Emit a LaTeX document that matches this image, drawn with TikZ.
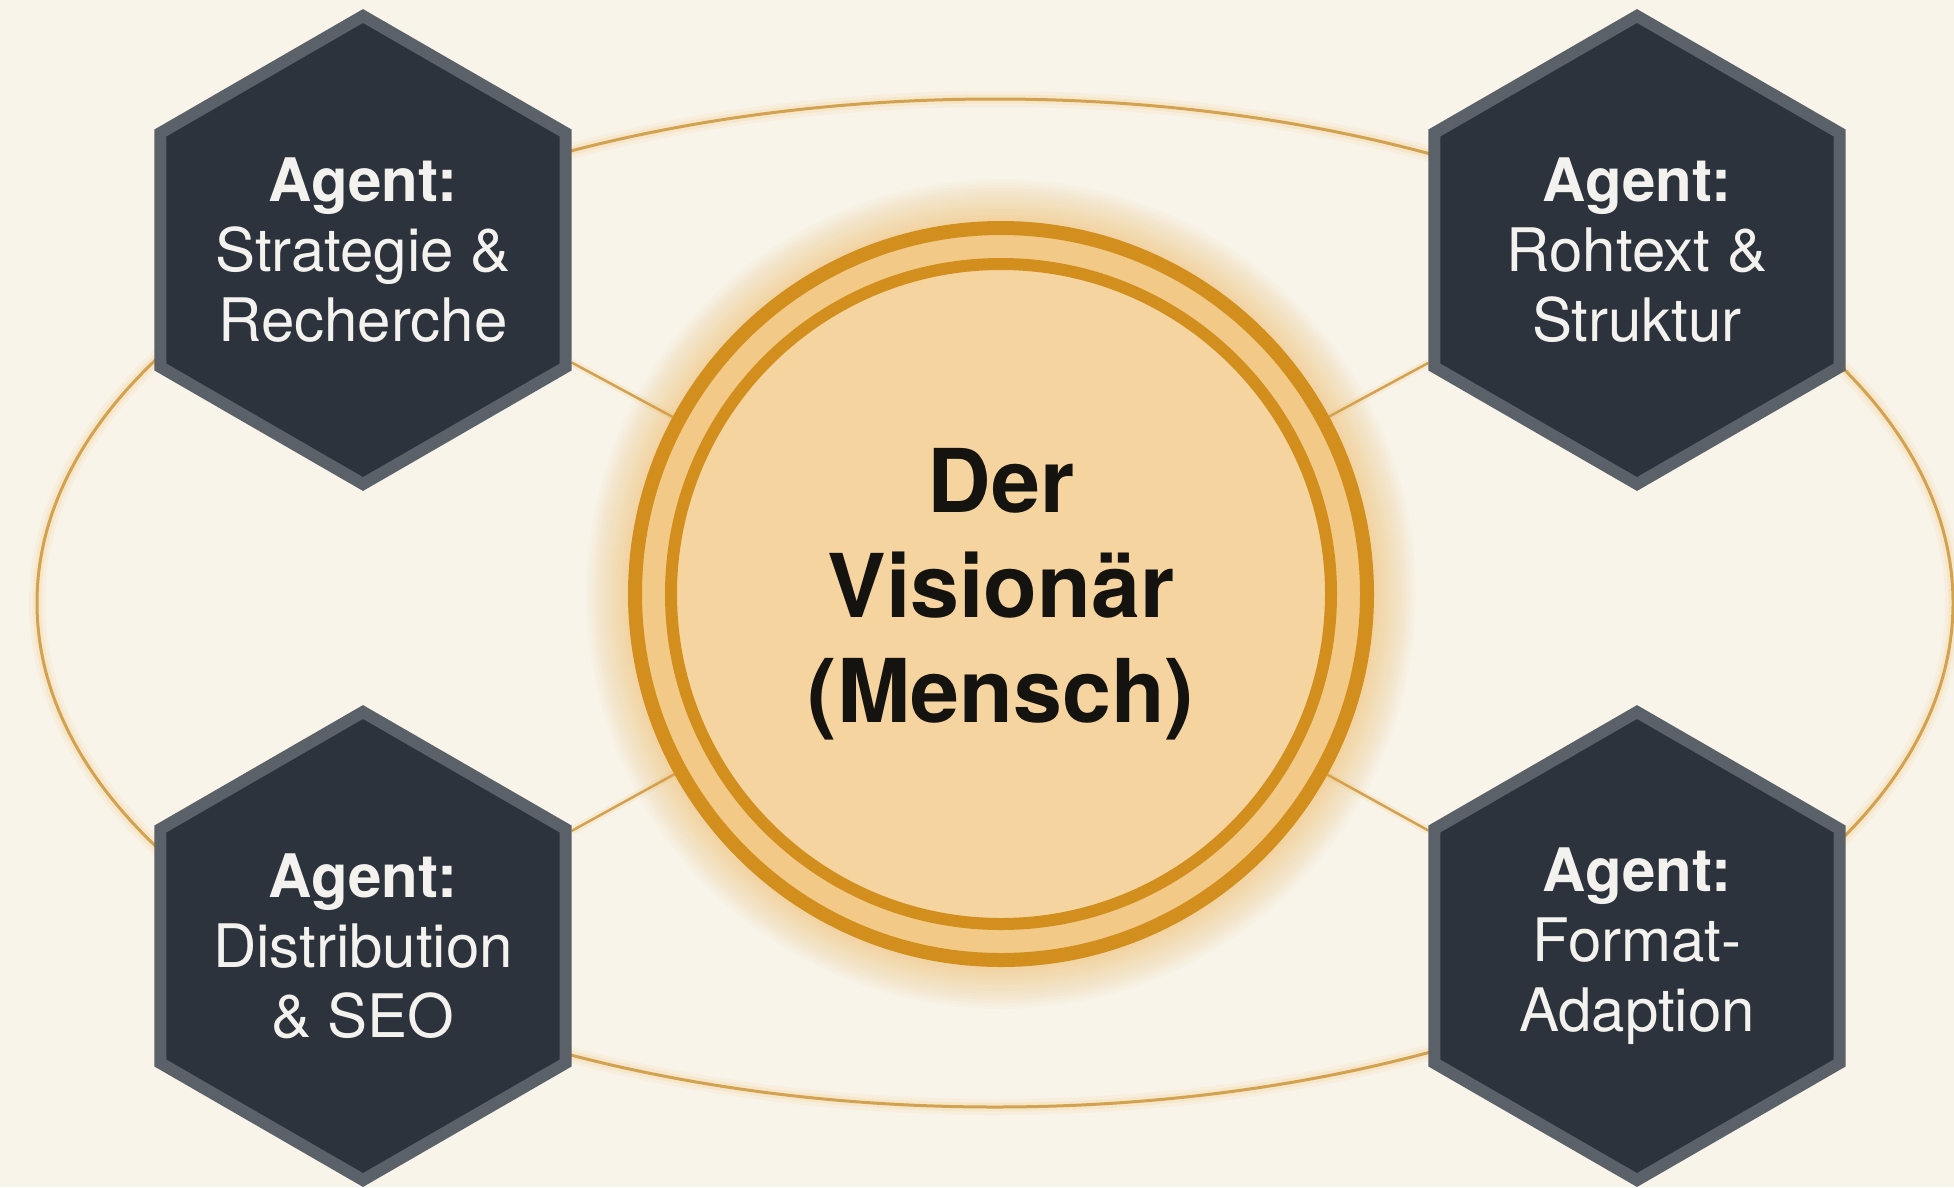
\documentclass[tikz,border=0pt]{standalone}
\usepackage{fontspec}
\setmainfont{TeX Gyre Heros}
\usetikzlibrary{shapes.geometric}
\definecolor{bgc}{HTML}{F8F4EA}
\definecolor{ringc}{HTML}{D28F1E}
\definecolor{bandc}{HTML}{F2C986}
\definecolor{innerc}{HTML}{F5D4A0}
\definecolor{linec}{HTML}{D2A250}
\definecolor{glowc}{HTML}{F2B047}
\definecolor{hexfill}{HTML}{2D333C}
\definecolor{hexborder}{HTML}{5A6169}
\definecolor{hextext}{HTML}{F3F2EE}
\definecolor{vistext}{HTML}{151310}
\pgfdeclarelayer{back}
\pgfdeclarelayer{bg}
\pgfsetlayers{back,bg,main}
\tikzset{
  agent/.style={regular polygon, regular polygon sides=6, shape border rotate=30,
    minimum size=468pt, inner sep=0pt, line width=12pt, draw=hexborder, fill=hexfill},
  agenttext/.style={text=hextext, align=center, inner sep=0pt, font=\fontsize{60}{70}\selectfont},
  outerring/.style={circle, minimum size=732pt, inner sep=0pt, line width=14pt, draw=ringc, fill=bandc},
  innerring/.style={circle, minimum size=660pt, inner sep=0pt, line width=12pt, draw=ringc, fill=innerc,
    text=vistext, align=center, font=\bfseries\fontsize{88}{105}\selectfont},
  spoke/.style={draw=linec, line width=2.5pt},
  orbit/.style={draw=linec, line width=3pt},
}
\begin{document}
\begin{tikzpicture}[x=1pt,y=-1pt]
\useasboundingbox (0,0) rectangle (1954,1187);
\begin{pgfonlayer}{back}
  \fill[bgc] (0,0) rectangle (1954,1187);
\end{pgfonlayer}

\node[outerring] (vis) at (1001,594) {};
\node[innerring] (visin) at (1001,594) {Der\\Visionär\\(Mensch)};

\node[agent, label={[agenttext]center:{{\bfseries Agent:}\\Strategie \&\\Recherche}}] (tl) at (363,250) {};
\node[agent, label={[agenttext]center:{{\bfseries Agent:}\\Rohtext \&\\Struktur}}] (tr) at (1637,250) {};
\node[agent, label={[agenttext]center:{{\bfseries Agent:}\\Distribution\\\& SEO}}] (bl) at (363,946) {};
\node[agent, label={[agenttext]center:{{\bfseries Agent:}\\Format-\\Adaption}}] (br) at (1637,946) {};

\begin{pgfonlayer}{bg}
  % glow around central circle
  \foreach \r in {1,...,14} {
    \fill[glowc, opacity=0.035] (vis.center) circle (373+3*\r);
  }
  % orbit ellipse with soft glow
  \coordinate (orbitc) at (995,603);
  \draw[glowc, opacity=0.08, line width=16pt] (orbitc) ellipse [x radius=958, y radius=504];
  \draw[glowc, opacity=0.12, line width=9pt] (orbitc) ellipse [x radius=958, y radius=504];
  \draw[orbit] (orbitc) ellipse [x radius=958, y radius=504];
  % spokes
  \foreach \h in {tl,tr,bl,br} {
    \draw[glowc, opacity=0.12, line width=8pt] (\h) -- (vis);
    \draw[spoke] (\h) -- (vis);
  }
\end{pgfonlayer}
\end{tikzpicture}
\end{document}
